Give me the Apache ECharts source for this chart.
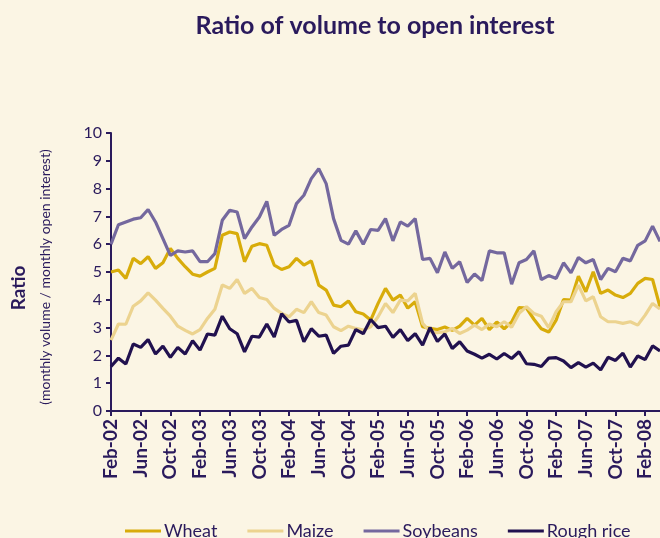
<!DOCTYPE html>
<html>
<head>
<meta charset="utf-8">
<title>Ratio of volume to open interest</title>
<script src="https://cdn.jsdelivr.net/npm/echarts@6/dist/echarts.min.js"></script>
<style>
  html, body { margin: 0; padding: 0; background: #fbf5e4; }
  #chart { width: 660px; height: 538px; }
</style>
</head>
<body>
<div id="chart"></div>
<script>
// monthly, Feb-02 .. Apr-08
var months = [
  'Feb-02','Mar-02','Apr-02','May-02','Jun-02','Jul-02','Aug-02','Sep-02','Oct-02','Nov-02','Dec-02',
  'Jan-03','Feb-03','Mar-03','Apr-03','May-03','Jun-03','Jul-03','Aug-03','Sep-03','Oct-03','Nov-03','Dec-03',
  'Jan-04','Feb-04','Mar-04','Apr-04','May-04','Jun-04','Jul-04','Aug-04','Sep-04','Oct-04','Nov-04','Dec-04',
  'Jan-05','Feb-05','Mar-05','Apr-05','May-05','Jun-05','Jul-05','Aug-05','Sep-05','Oct-05','Nov-05','Dec-05',
  'Jan-06','Feb-06','Mar-06','Apr-06','May-06','Jun-06','Jul-06','Aug-06','Sep-06','Oct-06','Nov-06','Dec-06',
  'Jan-07','Feb-07','Mar-07','Apr-07','May-07','Jun-07','Jul-07','Aug-07','Sep-07','Oct-07','Nov-07','Dec-07',
  'Jan-08','Feb-08','Mar-08','Apr-08'
];

var wheat = [
  5.0, 5.07, 4.77, 5.49, 5.3, 5.55, 5.13, 5.33, 5.85, 5.49, 5.19,
  4.92, 4.85, 5.0, 5.13, 6.32, 6.44, 6.38, 5.37, 5.93, 6.02, 5.96, 5.25,
  5.09, 5.19, 5.49, 5.25, 5.4, 4.53, 4.35, 3.81, 3.75, 3.96, 3.57, 3.49,
  3.27, 3.87, 4.41, 3.99, 4.17, 3.7, 3.93, 3.03, 2.97, 2.93, 3.02, 2.9,
  3.05, 3.33, 3.09, 3.33, 2.93, 3.2, 2.96, 3.2, 3.72, 3.7, 3.3, 2.96,
  2.84, 3.27, 4.01, 3.99, 4.85, 4.29, 5.01, 4.23, 4.35, 4.17, 4.08, 4.23,
  4.59, 4.77, 4.73, 3.75
];

var maize = [
  2.55, 3.13, 3.12, 3.77, 3.96, 4.25, 3.99, 3.69, 3.41, 3.05, 2.9,
  2.77, 2.93, 3.33, 3.66, 4.53, 4.41, 4.73, 4.23, 4.41, 4.08, 4.01, 3.69,
  3.51, 3.39, 3.66, 3.54, 3.93, 3.54, 3.45, 3.03, 2.89, 3.05, 2.97, 2.91,
  3.03, 3.39, 3.87, 3.54, 3.99, 3.96, 4.23, 3.15, 2.85, 2.82, 2.85, 2.97,
  2.79, 2.91, 3.09, 2.93, 3.13, 3.03, 3.21, 3.01, 3.51, 3.75, 3.51, 3.41,
  3.0, 3.57, 3.93, 3.93, 4.53, 3.96, 4.11, 3.39, 3.21, 3.21, 3.15, 3.21,
  3.09, 3.45, 3.87, 3.67
];

var soybeans = [
  6.0, 6.7, 6.8, 6.9, 6.95, 7.25, 6.8, 6.2, 5.6, 5.76, 5.72,
  5.76, 5.37, 5.37, 5.66, 6.86, 7.22, 7.16, 6.2, 6.62, 6.98, 7.54, 6.32,
  6.53, 6.68, 7.46, 7.76, 8.36, 8.72, 8.18, 6.92, 6.14, 6.0, 6.48, 6.0,
  6.53, 6.5, 6.92, 6.12, 6.8, 6.65, 6.92, 5.45, 5.49, 4.97, 5.72, 5.13,
  5.37, 4.62, 4.93, 4.69, 5.76, 5.69, 5.69, 4.56, 5.33, 5.45, 5.76, 4.73,
  4.87, 4.77, 5.33, 4.97, 5.52, 5.33, 5.45, 4.73, 5.13, 5.01, 5.49, 5.4,
  5.96, 6.12, 6.65, 6.1
];

var roughRice = [
  1.6, 1.9, 1.69, 2.41, 2.29, 2.57, 2.05, 2.33, 1.93, 2.29, 2.05,
  2.53, 2.19, 2.77, 2.73, 3.41, 2.96, 2.78, 2.13, 2.69, 2.66, 3.13, 2.66,
  3.5, 3.2, 3.26, 2.49, 2.96, 2.69, 2.73, 2.07, 2.33, 2.37, 2.93, 2.78,
  3.29, 3.0, 3.05, 2.65, 2.93, 2.53, 2.78, 2.37, 3.0, 2.5, 2.77, 2.25,
  2.49, 2.16, 2.04, 1.9, 2.04, 1.87, 2.07, 1.89, 2.13, 1.7, 1.68, 1.6,
  1.9, 1.92, 1.8, 1.56, 1.74, 1.58, 1.72, 1.48, 1.93, 1.82, 2.08, 1.58,
  1.98, 1.85, 2.34, 2.16
];

var ink = '#2a1a5c';
var font = 'Lato, "Open Sans", sans-serif';

var chart = echarts.init(document.getElementById('chart'));

function line(name, data, color) {
  return {
    name: name,
    type: 'line',
    data: data,
    showSymbol: false,
    symbol: 'none',
    lineStyle: { width: 3.2, color: color },
    itemStyle: { color: color },
    emphasis: { disabled: true }
  };
}

var option = {
  backgroundColor: '#fbf5e4',
  animation: false,
  textStyle: { fontFamily: font, color: ink },
  title: {
    text: 'Ratio of volume to open interest',
    left: 370,
    textAlign: 'center',
    top: 8,
    textStyle: { fontFamily: font, fontWeight: 'bold', fontSize: 25, color: ink }
  },
  legend: {
    left: 120,
    top: 517,
    icon: 'rect',
    itemWidth: 36,
    itemHeight: 3,
    itemGap: 30,
    textStyle: { fontFamily: font, fontSize: 18, color: ink, padding: [0, 0, 0, -2] },
    data: ['Wheat', 'Maize', 'Soybeans', 'Rough rice']
  },
  grid: { left: 111, right: -2, top: 133, bottom: 127, containLabel: false },
  xAxis: {
    type: 'category',
    data: months,
    boundaryGap: false,
    axisLine: { lineStyle: { color: ink, width: 2 } },
    axisTick: { interval: 3, length: 5, lineStyle: { color: ink, width: 2 } },
    axisLabel: {
      interval: 3,
      rotate: 90,
      margin: 8,
      fontFamily: font,
      fontWeight: 'bold',
      fontSize: 19,
      color: ink
    },
    splitLine: { show: false }
  },
  yAxis: {
    type: 'value',
    min: 0,
    max: 10,
    interval: 1,
    axisLine: { show: true, lineStyle: { color: ink, width: 2 } },
    axisTick: { show: true, length: 5, lineStyle: { color: ink, width: 2 } },
    axisLabel: { fontFamily: font, fontSize: 16, color: ink, margin: 9 },
    splitLine: { show: false }
  },
  graphic: [
    {
      type: 'text',
      x: 19, y: 288,
      rotation: Math.PI / 2,
      style: { text: 'Ratio', font: 'bold 19px ' + font, fill: ink, align: 'center', verticalAlign: 'middle' }
    },
    {
      type: 'text',
      x: 45, y: 277,
      rotation: Math.PI / 2,
      style: { text: '(monthly volume / monthly open interest)', font: '14px ' + font, fill: ink, align: 'center', verticalAlign: 'middle' }
    }
  ],
  series: [
    line('Wheat', wheat, '#d8ac0a'),
    line('Maize', maize, '#ecd38f'),
    line('Soybeans', soybeans, '#74689e'),
    line('Rough rice', roughRice, '#21114f')
  ]
};

chart.setOption(option);
</script>
</body>
</html>
